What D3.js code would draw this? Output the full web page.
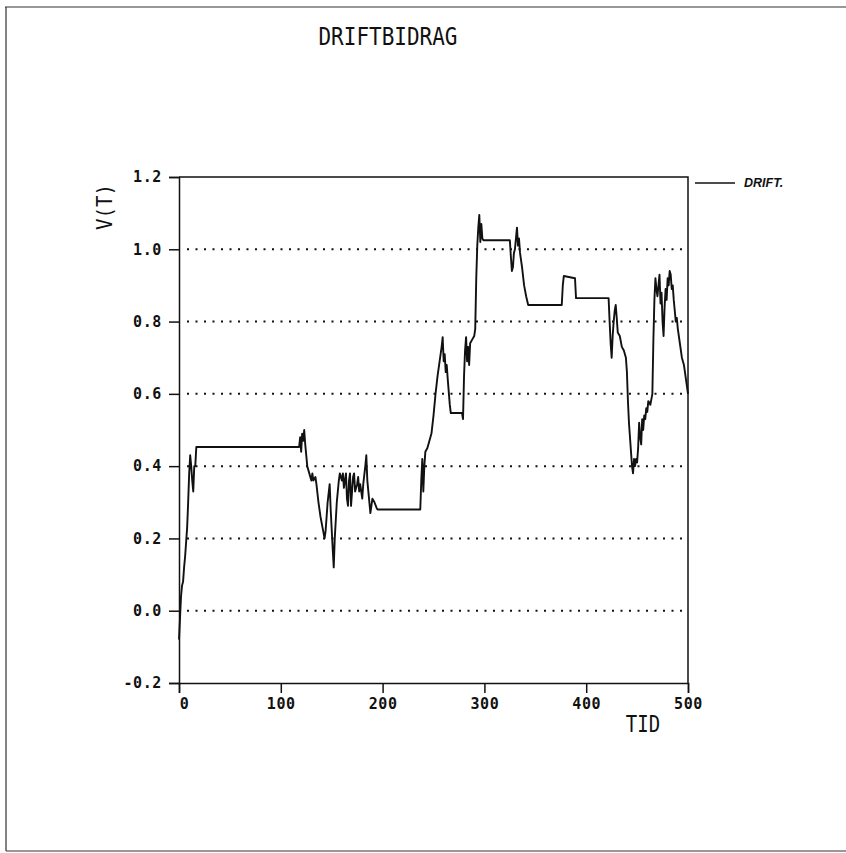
<!DOCTYPE html>
<html>
<head>
<meta charset="utf-8">
<script src="https://cdn.jsdelivr.net/npm/d3@7"></script>
<style>
  html, body { margin: 0; padding: 0; background: #fff; }
  svg { display: block; }
</style>
</head>
<body>
<svg id="chart" width="846" height="853"></svg>
<script>
// Time axis (TID) and drift contribution V(T)
const tid = [
  0, 1, 2, 3, 4, 5, 6, 7, 8, 9, 10, 11, 12, 13, 14, 15, 16, 17,
  118, 119, 120, 121, 122, 123, 124, 126, 128, 130, 131, 132, 134, 135, 137, 139, 141, 143, 144,
  146, 148, 149, 151, 152, 153, 155, 157, 158, 160, 161, 162, 164, 165, 166, 167, 168, 169, 170,
  171, 172, 173, 175, 176, 177, 178, 180, 181, 183, 184, 185, 186, 188, 189, 190, 192, 194, 195,
  237, 238, 239, 240, 241, 242, 244, 246, 248, 250, 252, 254, 256, 258, 259, 260, 261, 262, 263,
  264, 266, 267, 278, 279, 280, 281, 282, 283, 284, 285, 286, 288, 290, 291, 292, 293, 294, 295,
  296, 297, 298, 299, 325, 326, 327, 328, 329, 330, 331, 332, 333, 334, 335, 337, 339, 341, 343,
  376, 377, 378, 389, 390, 422, 423, 424, 425, 426, 427, 428, 429, 430, 431, 433, 435, 437, 439,
  440, 441, 442, 443, 444, 445, 446, 447, 448, 449, 450, 451, 452, 453, 454, 455, 456, 457, 458,
  459, 460, 461, 463, 465, 466, 467, 468, 469, 470, 471, 472, 473, 474, 475, 476, 477, 478, 479,
  480, 481, 482, 483, 484, 485, 486, 487, 488, 489, 490, 492, 494, 496, 498, 500
];
const drift = [
  -0.08, -0.02, 0.04, 0.07, 0.08, 0.12, 0.15, 0.19, 0.23, 0.30, 0.38, 0.43, 0.40, 0.36, 0.33, 0.40, 0.40, 0.453,
  0.453, 0.48, 0.44, 0.49, 0.47, 0.50, 0.46, 0.40, 0.38, 0.36, 0.38, 0.36, 0.37, 0.35, 0.30, 0.26, 0.23, 0.20, 0.22,
  0.30, 0.35, 0.28, 0.17, 0.12, 0.20, 0.30, 0.36, 0.38, 0.36, 0.38, 0.34, 0.38, 0.31, 0.29, 0.36, 0.38, 0.29, 0.33,
  0.37, 0.38, 0.33, 0.35, 0.37, 0.33, 0.35, 0.31, 0.35, 0.40, 0.43, 0.36, 0.33, 0.27, 0.29, 0.31, 0.30, 0.285, 0.28,
  0.28, 0.36, 0.42, 0.33, 0.40, 0.44, 0.45, 0.47, 0.49, 0.54, 0.60, 0.65, 0.69, 0.73, 0.757, 0.69, 0.71, 0.66, 0.68,
  0.64, 0.57, 0.547, 0.547, 0.53, 0.65, 0.72, 0.757, 0.69, 0.73, 0.68, 0.74, 0.75, 0.76, 0.78, 0.92, 1.01, 1.06, 1.095,
  1.02, 1.07, 1.03, 1.025, 1.025, 0.98, 0.94, 0.95, 0.99, 1.00, 1.03, 1.06, 1.01, 1.03, 0.99, 0.95, 0.90, 0.87, 0.846,
  0.846, 0.90, 0.926, 0.92, 0.865, 0.865, 0.80, 0.74, 0.70, 0.76, 0.80, 0.83, 0.846, 0.81, 0.77, 0.76, 0.73, 0.72, 0.70,
  0.66, 0.58, 0.52, 0.48, 0.44, 0.40, 0.38, 0.42, 0.40, 0.42, 0.41, 0.45, 0.52, 0.48, 0.46, 0.53, 0.50, 0.54, 0.53,
  0.56, 0.55, 0.58, 0.57, 0.60, 0.75, 0.86, 0.92, 0.89, 0.87, 0.90, 0.93, 0.85, 0.88, 0.80, 0.76, 0.84, 0.89, 0.86,
  0.92, 0.90, 0.94, 0.93, 0.89, 0.90, 0.86, 0.83, 0.80, 0.81, 0.78, 0.74, 0.70, 0.68, 0.64, 0.60
];

const xTicks = [0, 100, 200, 300, 400, 500];
const yTicks = [-0.2, 0.0, 0.2, 0.4, 0.6, 0.8, 1.0, 1.2];
const gridValues = [0.0, 0.2, 0.4, 0.6, 0.8, 1.0];

const title = "DRIFTBIDRAG";
const yTitle = "V(T)";
const xTitle = "TID";
const seriesName = "DRIFT.";

const svg = d3.select("#chart");
const ink = "#111";
const monoFont = "'DejaVu Sans Mono', 'Liberation Mono', monospace";

// Sheet border
svg.append("path")
  .attr("d", "M5,7 H846 M6,7 V851 M6,851 H846")
  .attr("fill", "none")
  .attr("stroke", "#333")
  .attr("stroke-width", 1.2);

const x = d3.scaleLinear().domain([0, 500]).range([179, 688]);
const y = d3.scaleLinear().domain([-0.2, 1.2]).range([683, 177]);

// Dotted grid lines
svg.append("g")
  .selectAll("line")
  .data(gridValues)
  .join("line")
  .attr("x1", x(0) + 8)
  .attr("x2", x(500))
  .attr("y1", d => y(d))
  .attr("y2", d => y(d))
  .attr("stroke", ink)
  .attr("stroke-width", 2)
  .attr("stroke-dasharray", "2,6.5");

// Axes with outward ticks
const fmtY = d => d3.format(".1f")(d).replace("−", "-");
const yAxis = d3.axisLeft(y).tickValues(yTicks).tickFormat(fmtY).tickSize(10).tickPadding(7);
const xAxis = d3.axisBottom(x).tickValues(xTicks).tickFormat(d3.format("d")).tickSize(10).tickPadding(5);

const gy = svg.append("g").attr("transform", `translate(${x(0)},0)`).call(yAxis);
const gx = svg.append("g").attr("transform", `translate(0,${y(-0.2)})`).call(xAxis);

[gx, gy].forEach(g => {
  g.select(".domain").attr("stroke", ink).attr("stroke-width", 1.5);
  g.selectAll(".tick line").attr("stroke", ink).attr("stroke-width", 1.5);
  g.selectAll(".tick text")
    .attr("fill", ink)
    .style("font-family", monoFont)
    .style("font-weight", "bold")
    .style("font-size", "15px")
    .style("letter-spacing", "0.6px");
});
// first time label sits just right of its tick
gx.selectAll(".tick text").filter(d => d === 0).attr("dx", "5");

// Top and right frame
svg.append("path")
  .attr("d", `M${x(0)},${y(1.2)} H${x(500)} V${y(-0.2)}`)
  .attr("fill", "none")
  .attr("stroke", ink)
  .attr("stroke-width", 1.5);

// Series line
const line = d3.line()
  .x((d, i) => x(tid[i]))
  .y(d => y(d));

svg.append("path")
  .datum(drift)
  .attr("d", line)
  .attr("fill", "none")
  .attr("stroke", ink)
  .attr("stroke-width", 1.9)
  .attr("stroke-linejoin", "round");

// Titles
svg.append("text")
  .attr("transform", "translate(388,45) scale(1,1.2)")
  .attr("text-anchor", "middle")
  .attr("fill", ink)
  .style("font-family", monoFont)
  .style("font-size", "21px")
  .text(title);

svg.append("text")
  .attr("transform", "translate(112,207) rotate(-90) scale(1,1.1)")
  .attr("text-anchor", "middle")
  .attr("fill", ink)
  .style("font-family", monoFont)
  .style("font-size", "19px")
  .text(yTitle);

svg.append("text")
  .attr("transform", "translate(643,732) scale(1,1.2)")
  .attr("text-anchor", "middle")
  .attr("fill", ink)
  .style("font-family", monoFont)
  .style("font-size", "19px")
  .text(xTitle);

// Legend
svg.append("line")
  .attr("x1", 695).attr("x2", 735)
  .attr("y1", 183).attr("y2", 183)
  .attr("stroke", ink)
  .attr("stroke-width", 1.5);

svg.append("text")
  .attr("x", 744)
  .attr("y", 187)
  .attr("fill", ink)
  .style("font-family", "'Liberation Sans', Arial, sans-serif")
  .style("font-weight", "bold")
  .style("font-style", "italic")
  .style("font-size", "12.5px")
  .text(seriesName);
</script>
</body>
</html>
